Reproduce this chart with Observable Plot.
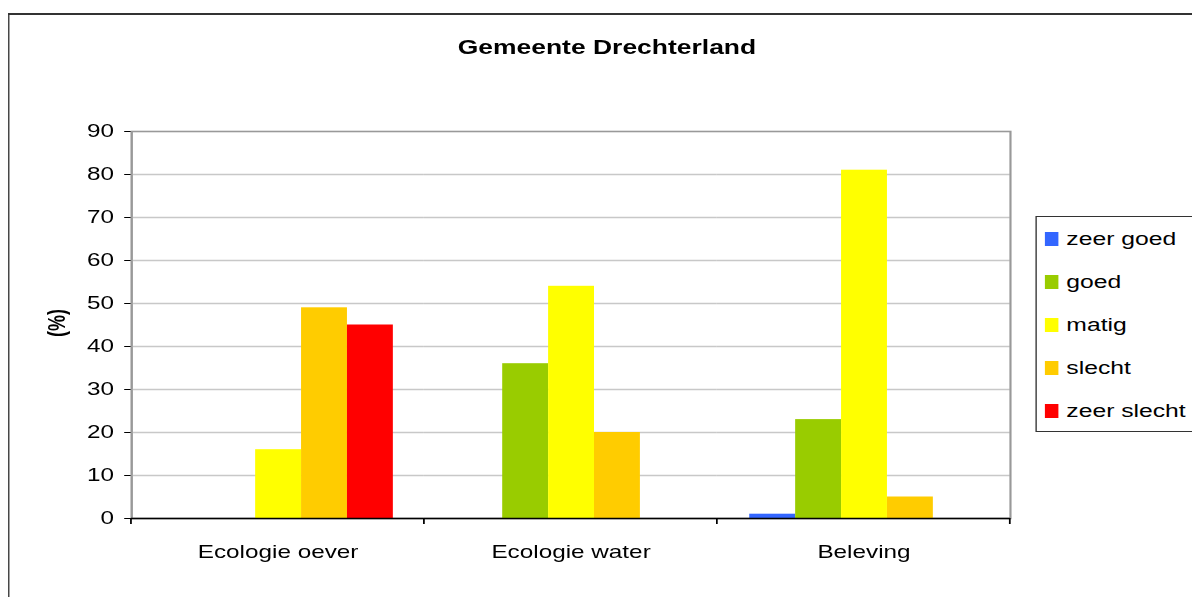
<!DOCTYPE html>
<html>
<head>
<meta charset="utf-8">
<script src="https://cdn.jsdelivr.net/npm/d3@7"></script>
<script src="https://cdn.jsdelivr.net/npm/@observablehq/plot@0.6"></script>
<style>
  html, body { margin: 0; padding: 0; background: #fff; overflow: hidden; width: 1192px; height: 597px; }
  #wrap { position: relative; width: 883px; height: 597px; transform: scaleX(1.35); transform-origin: 0 0; font-family: "Liberation Sans", Arial, sans-serif; color: #000; }
  #border { position: absolute; left: 6.3px; top: 13px; width: 1000px; height: 1000px; border-top: 2px solid #333; border-left: 1.5px solid #333; }
  #title { position: absolute; left: 249.6px; width: 400px; top: 37px; text-align: center; font-weight: bold; font-size: 19.6px; line-height: 20px; }
  #ylabel { position: absolute; left: 43px; top: 323px; transform: translate(-50%, -50%) rotate(-90deg); font-weight: bold; font-size: 18px; white-space: nowrap; }
  #chart { position: absolute; left: 0; top: 0; }
  #legend { position: absolute; left: 767px; top: 216px; width: 120px; height: 216px; border: 1.5px solid #333; box-sizing: border-box; background: #fff; }
  .row { display: flex; align-items: center; height: 43px; }
  .sw { width: 10.4px; height: 14px; margin-left: 5.5px; margin-right: 6px; flex: none; }
  .lt { font-size: 18.3px; line-height: 18px; white-space: nowrap; }
</style>
</head>
<body>
<div id="wrap">
  <div id="border"></div>
  <div id="title"></div>
  <div id="ylabel"></div>
  <div id="chart"></div>
  <div id="legend"></div>
</div>
<script>
const title = "Gemeente Drechterland";
const yLabel = "(%)";
const categories = ["Ecologie oever", "Ecologie water", "Beleving"];
const series = ["zeer goed", "goed", "matig", "slecht", "zeer slecht"];
const colors = ["#3366ff", "#99cc00", "#ffff00", "#ffcc00", "#ff0000"];
const ecologieOever = [0, 0, 16, 49, 45];
const ecologieWater = [0, 36, 54, 20, 0];
const beleving = [1, 23, 81, 5, 0];
const yTicks = [0, 10, 20, 30, 40, 50, 60, 70, 80, 90];

const values = [ecologieOever, ecologieWater, beleving];
const data = categories.flatMap((c, i) => series.map((s, j) => ({category: c, series: s, value: values[i][j]})));

document.getElementById("title").textContent = title;
document.getElementById("ylabel").textContent = yLabel;

// category boundary tick marks below the axis, placed with the fx scale
function boundaryTicks(index, scales, values, dims) {
  const g = d3.create("svg:g");
  const fx = scales.fx;
  if (!fx) return g.node();
  const bw = fx.bandwidth ? fx.bandwidth() : 0;
  const y0 = dims.height - dims.marginBottom;
  const xs = [fx(categories[0])].concat(categories.map(c => fx(c) + bw));
  xs.forEach(x => {
    g.append("line").attr("x1", x).attr("x2", x).attr("y1", y0).attr("y2", y0 + 6)
      .attr("stroke", "#000").attr("stroke-width", 1.3);
  });
  return g.node();
}

const chart = Plot.plot({
  width: 883,
  height: 597,
  marginLeft: 97,
  marginRight: 135,
  marginTop: 131,
  marginBottom: 79,
  style: {fontFamily: "'Liberation Sans', Arial, sans-serif", fontSize: "18px", background: "transparent", color: "#000", overflow: "visible"},
  facet: {data, x: "category"},
  fx: {domain: categories, padding: 0, axis: "bottom", tickSize: 0, tickPadding: 27, label: null},
  x: {domain: series, paddingInner: 0, paddingOuter: 0.68, axis: null},
  y: {domain: [0, 90], ticks: yTicks, tickFormat: d => d, tickSize: 5, tickPadding: 8, label: null, line: true},
  color: {domain: series, range: colors},
  marks: [
    Plot.ruleY(yTicks.slice(1, -1), {stroke: "#c8c8c8", strokeWidth: 1.6}),
    Plot.frame({stroke: "#999", strokeWidth: 1.6, facet: "super"}),
    Plot.barY(data, {x: "series", y: "value", fill: "series"}),
    Plot.ruleY([0], {stroke: "#000", strokeWidth: 1.3}),
    Plot.frame({stroke: "none", facet: "super", render: boundaryTicks})
  ]
});
document.getElementById("chart").appendChild(chart);

const legend = document.getElementById("legend");
series.forEach((s, i) => {
  const row = document.createElement("div");
  row.className = "row";
  const sw = document.createElement("div");
  sw.className = "sw";
  sw.style.background = colors[i];
  const t = document.createElement("span");
  t.className = "lt";
  t.textContent = s;
  row.appendChild(sw);
  row.appendChild(t);
  legend.appendChild(row);
});
</script>
</body>
</html>
